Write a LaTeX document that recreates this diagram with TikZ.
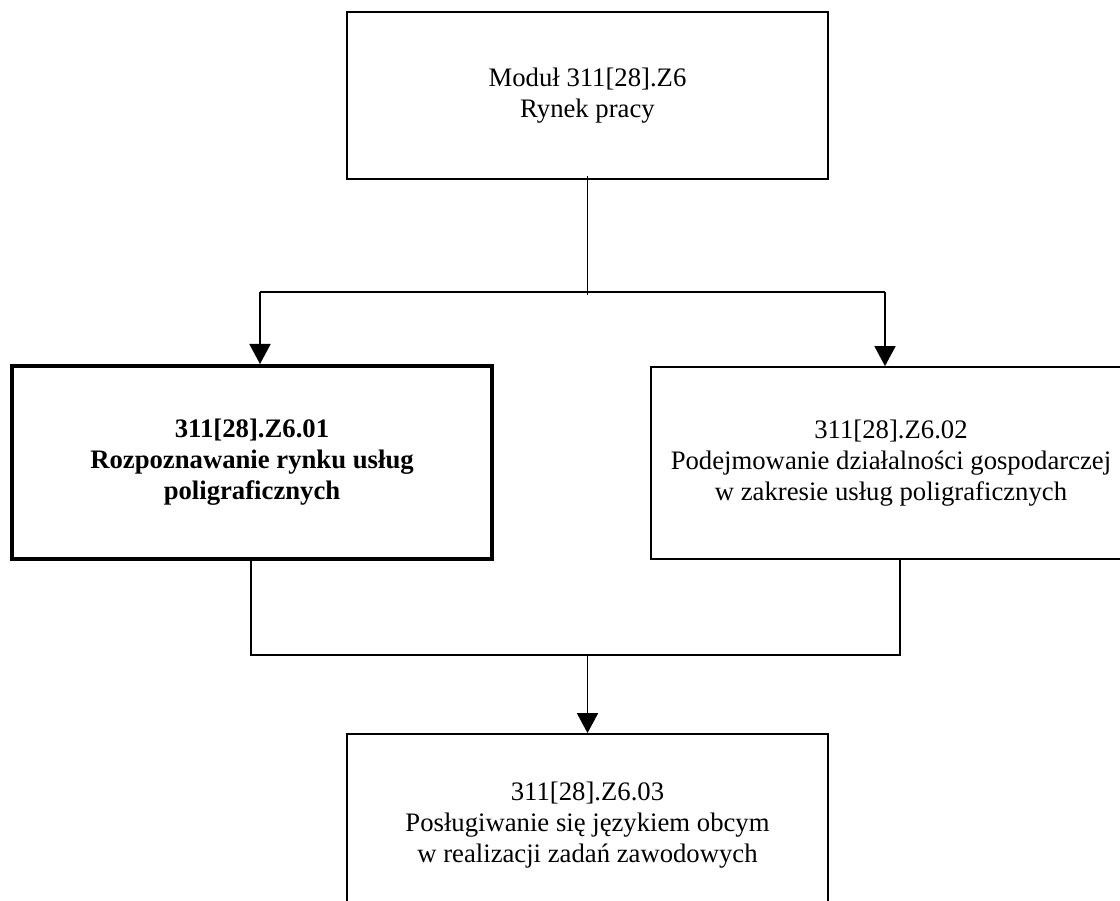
\documentclass[tikz,border=0pt]{standalone}
\usepackage{fontspec}
\setmainfont{Liberation Serif}
\usetikzlibrary{arrows.meta,positioning}
\tikzset{
  mbox/.style={rectangle, draw=black, line width=1.8pt, align=center, inner sep=0pt,
               font=\fontsize{26.7}{31}\selectfont},
  mboxbold/.style={mbox, line width=4pt, font=\fontsize{26.7}{31}\selectfont\bfseries},
  mline/.style={line width=1.8pt},
  marrow/.style={mline, -{Triangle[width=21pt,length=20pt]}},
}
\begin{document}
\begin{tikzpicture}[x=1pt, y=-1pt]
  \useasboundingbox (0,0) rectangle (1120,901);
  \clip (0,0) rectangle (1120,901);
  % module and its units
  \node[mbox, minimum width=481pt, minimum height=167pt] (modul) at (587.5,95.5)
    {Moduł 311[28].Z6\\Rynek pracy};
  \node[mboxbold, minimum width=480pt, minimum height=193pt] (rynek) at (252,462.5)
    {311[28].Z6.01\\Rozpoznawanie rynku usług\\poligraficznych};
  \node[mbox, minimum width=480pt, minimum height=192pt] (dzial) at (891,463)
    {311[28].Z6.02\\Podejmowanie działalności gospodarczej\\w zakresie usług poligraficznych};
  \node[mbox, minimum width=481pt, minimum height=182pt] (jezyk) at (587.5,825)
    {311[28].Z6.03\\Posługiwanie się językiem obcym\\w realizacji zadań zawodowych};
  % branching
  \coordinate (split) at (587.5,292);
  \coordinate (lhub) at (260,292);
  \coordinate (rhub) at (885,292);
  \draw[mline] ([yshift=4pt]modul.south) -- ([yshift=-3pt]split);
  \draw[mline] (lhub) -- (rhub);
  \draw[marrow] (lhub) -- (lhub |- rynek.north);
  \draw[marrow] (rhub) -- (rhub |- dzial.north);
  % joining
  \coordinate (ljoin) at (251,655);
  \coordinate (rjoin) at (900,655);
  \coordinate (merge) at (587.5,655);
  \draw[mline] (ljoin |- rynek.south) -- (ljoin) -- (rjoin) -- (rjoin |- dzial.south);
  \draw[marrow] (merge) -- (jezyk.north);
\end{tikzpicture}
\end{document}
